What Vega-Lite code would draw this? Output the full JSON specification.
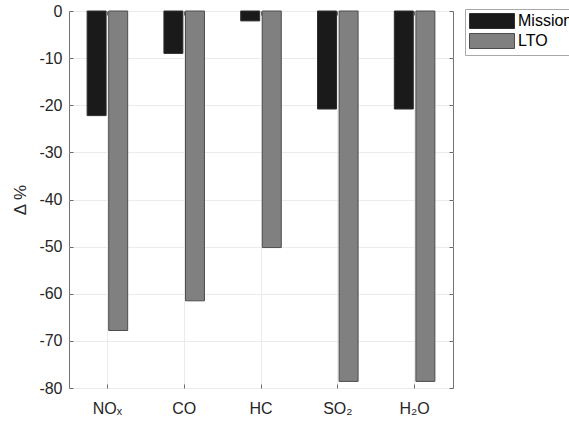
{
  "$schema": "https://vega.github.io/schema/vega-lite/v6.json",
  "width": 384,
  "height": 377,
  "autosize": {"type": "none"},
  "padding": {"left": 69, "top": 11, "right": 116, "bottom": 33},
  "background": "white",
  "config": {
    "font": "Liberation Sans",
    "view": {"stroke": "#737373", "strokeWidth": 1},
    "axis": {
      "domain": false,
      "tickColor": "#6b6b6b",
      "tickSize": -4,
      "labelColor": "#262626",
      "labelFontSize": 16,
      "labelFont": "Liberation Sans",
      "titleColor": "#262626",
      "titleFont": "Liberation Sans",
      "titleFontWeight": "normal",
      "gridColor": "#ebebeb",
      "gridWidth": 1
    }
  },
  "data": {
    "values": [
      {"pollutant": "NOₓ", "type": "Mission", "value": -22.2},
      {"pollutant": "NOₓ", "type": "LTO", "value": -67.8},
      {"pollutant": "CO", "type": "Mission", "value": -9.0},
      {"pollutant": "CO", "type": "LTO", "value": -61.5},
      {"pollutant": "HC", "type": "Mission", "value": -2.1},
      {"pollutant": "HC", "type": "LTO", "value": -50.2},
      {"pollutant": "SO₂", "type": "Mission", "value": -20.8},
      {"pollutant": "SO₂", "type": "LTO", "value": -78.6},
      {"pollutant": "H₂O", "type": "Mission", "value": -20.8},
      {"pollutant": "H₂O", "type": "LTO", "value": -78.6}
    ]
  },
  "layer": [
    {
      "mark": {"type": "bar", "strokeWidth": 1},
      "encoding": {
        "x": {
          "field": "pollutant",
          "type": "nominal",
          "sort": ["NOₓ", "CO", "HC", "SO₂", "H₂O"],
          "scale": {"paddingInner": 0, "paddingOuter": 0},
          "axis": {
            "title": null,
            "labelAngle": 0,
            "bandPosition": 0.5,
            "grid": true,
            "labelPadding": 16
          }
        },
        "xOffset": {
          "field": "type",
          "type": "nominal",
          "sort": ["Mission", "LTO"],
          "scale": {"paddingInner": 0.12, "paddingOuter": 0.84}
        },
        "y": {
          "field": "value",
          "type": "quantitative",
          "scale": {"domain": [-80, 0], "nice": false},
          "axis": {
            "title": "Δ %",
            "titleFontSize": 17,
            "titlePadding": 9,
            "values": [-80, -70, -60, -50, -40, -30, -20, -10, 0],
            "labelExpr": "'' + datum.value",
            "grid": true,
            "labelPadding": 11
          }
        },
        "color": {
          "field": "type",
          "type": "nominal",
          "sort": ["Mission", "LTO"],
          "scale": {"domain": ["Mission", "LTO"], "range": ["#1a1a1a", "#808080"]},
          "legend": {
            "title": null,
            "orient": "none",
            "legendX": 396,
            "legendY": -2,
            "fillColor": "white",
            "strokeColor": "#a8a8a8",
            "padding": 4,
            "labelFontSize": 16,
            "labelColor": "#000000",
            "labelFont": "Liberation Sans",
            "symbolType": "M-3,-1L3,-1L3,1L-3,1Z",
            "symbolSize": 225,
            "symbolStrokeColor": "#333333",
            "symbolStrokeWidth": 1,
            "symbolOpacity": 1,
            "symbolOffset": 15,
            "labelOffset": 18,
            "rowPadding": 0
          }
        },
        "stroke": {
          "field": "type",
          "type": "nominal",
          "scale": {"domain": ["Mission", "LTO"], "range": ["#2e2e2e", "#4d4d4d"]},
          "legend": null
        }
      }
    },
    {
      "mark": {"type": "bar", "opacity": 0},
      "encoding": {
        "x": {
          "field": "pollutant",
          "type": "nominal",
          "sort": ["NOₓ", "CO", "HC", "SO₂", "H₂O"],
          "axis": {"orient": "top", "title": null, "labels": false, "grid": false, "bandPosition": 0.5}
        },
        "y": {
          "field": "value",
          "type": "quantitative",
          "axis": {"orient": "right", "title": null, "labels": false, "grid": false, "values": [-80, -70, -60, -50, -40, -30, -20, -10, 0]}
        }
      }
    }
  ],
  "resolve": {"axis": {"x": "independent", "y": "independent"}}
}
